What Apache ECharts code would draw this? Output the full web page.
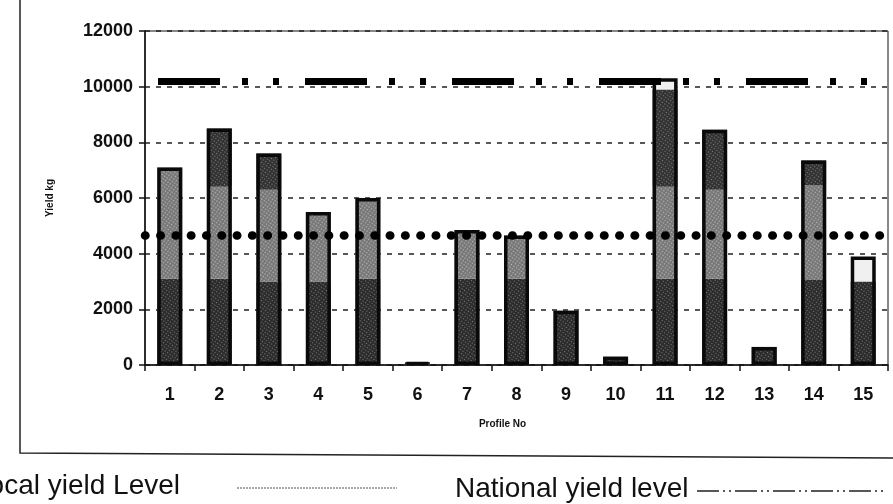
<!DOCTYPE html>
<html>
<head>
<meta charset="utf-8">
<script src="https://cdn.jsdelivr.net/npm/echarts@6/dist/echarts.min.js"></script>
<style>
  html, body { margin: 0; padding: 0; background: #fff; }
  #chart { width: 893px; height: 504px; }
</style>
</head>
<body>
<div id="chart"></div>
<script>
// profile numbers
let profiles = ['1', '2', '3', '4', '5', '6', '7', '8', '9', '10', '11', '12', '13', '14', '15'];
// kg
let totalYield = [7100, 8500, 7600, 5500, 6000, 100, 4850, 4650, 1950, 300, 10300, 8450, 650, 7350, 3900];
let layer1 = [3100, 3100, 3000, 3000, 3100, 100, 3100, 3100, 1950, 300, 3100, 3100, 650, 3050, 3000];
let layer2 = [4000, 3300, 3300, 2500, 2900, 0, 1750, 1550, 0, 0, 3300, 3200, 0, 3400, 0];
let layer3 = [0, 2100, 1300, 0, 0, 0, 0, 0, 0, 0, 3500, 2150, 0, 900, 0];
let layer4 = [0, 0, 0, 0, 0, 0, 0, 0, 0, 0, 400, 0, 0, 0, 900];
let localLevel = 4650;
let nationalLevel = 10200;
let yTicks = [0, 2000, 4000, 6000, 8000, 10000, 12000];

let chart = echarts.init(document.getElementById('chart'));
let labelFont = 'Liberation Sans, Arial, sans-serif';

// stipple texture for the grey fills
function dots(size, alpha) {
    return {
        symbol: 'circle',
        symbolSize: size,
        dashArrayX: [3, 0],
        dashArrayY: [3, 0],
        rotation: 0.6,
        color: 'rgba(255,255,255,' + alpha + ')'
    };
}

function layer(name, data, color, size, alpha) {
    return {
        name: name,
        type: 'bar',
        stack: 'yield',
        barWidth: 25,
        data: data,
        itemStyle: { color: color, decal: dots(size, alpha) },
        silent: true
    };
}

let option = {
    backgroundColor: '#fff',
    animation: false,
    grid: {
        left: 145,
        right: 5,
        top: 31,
        bottom: 139,
        show: true,
        borderColor: '#111',
        borderWidth: 1
    },
    xAxis: {
        type: 'category',
        data: profiles,
        name: 'Profile No',
        nameLocation: 'middle',
        nameGap: 54,
        nameTextStyle: { fontFamily: labelFont, fontWeight: 'bold', fontSize: 10, color: '#111', padding: [0, 28, 0, 0] },
        axisLine: { lineStyle: { color: '#111', width: 1.5 } },
        axisTick: { show: true, length: 6, lineStyle: { color: '#111', width: 1.5 } },
        axisLabel: { margin: 21, fontFamily: labelFont, fontWeight: 'bold', fontSize: 18, color: '#111' }
    },
    yAxis: {
        type: 'value',
        min: yTicks[0],
        max: yTicks[yTicks.length - 1],
        interval: yTicks[1] - yTicks[0],
        name: 'Yield kg',
        nameLocation: 'middle',
        nameGap: 90,
        nameTextStyle: { fontFamily: labelFont, fontWeight: 'bold', fontSize: 10, color: '#111' },
        axisLine: { show: true, lineStyle: { color: '#111', width: 1.5 } },
        axisTick: { show: true, length: 6, lineStyle: { color: '#111', width: 1.5 } },
        axisLabel: {
            margin: 12, fontFamily: labelFont, fontWeight: 'bold', fontSize: 18, color: '#111',
            formatter: function (v) { return String(v); }
        },
        splitLine: { show: true, lineStyle: { color: '#222', width: 1.5, type: [5, 6] } }
    },
    series: [
        layer('Layer 1', layer1, '#2c2c2c', 0.4, 0.45),
        layer('Layer 2', layer2, '#777777', 0.45, 0.5),
        layer('Layer 3', layer3, '#333333', 0.4, 0.45),
        layer('Layer 4', layer4, '#f0f0f0', 0.1, 0),
        {
            name: 'Total',
            type: 'bar',
            barWidth: 25,
            barGap: '-100%',
            z: 3,
            data: totalYield,
            itemStyle: { color: 'rgba(0,0,0,0)', borderColor: '#0a0a0a', borderWidth: 3.5 },
            markLine: {
                silent: true,
                symbol: 'none',
                label: { show: false },
                data: [
                    {
                        yAxis: nationalLevel,
                        lineStyle: { color: '#000', width: 7, type: [62, 22, 6, 25, 6, 26], dashOffset: 134, cap: 'butt' }
                    },
                    {
                        yAxis: localLevel,
                        lineStyle: { color: '#000', width: 8.5, type: [0.5, 14.8], dashOffset: 0, cap: 'round' }
                    }
                ]
            }
        }
    ],
    graphic: [
        {
            type: 'polyline',
            silent: true,
            shape: { points: [[20, 0], [20, 453], [893, 458]] },
            style: { stroke: '#222', lineWidth: 1.5, fill: null }
        },
        {
            type: 'text',
            left: -27,
            top: 472,
            style: { text: 'Local yield Level', font: '28px ' + labelFont, fill: '#111' }
        },
        {
            type: 'line',
            silent: true,
            shape: { x1: 237, y1: 488, x2: 397, y2: 488 },
            style: { stroke: '#555', lineWidth: 1, lineDash: [2, 1] }
        },
        {
            type: 'text',
            left: 455,
            top: 475,
            style: { text: 'National yield level', font: '28px ' + labelFont, fill: '#111' }
        },
        {
            type: 'line',
            silent: true,
            shape: { x1: 697, y1: 491, x2: 885, y2: 491 },
            style: { stroke: '#222', lineWidth: 1.5, lineDash: [22, 4, 2, 4, 2, 4] }
        }
    ]
};
chart.setOption(option);
</script>
</body>
</html>
